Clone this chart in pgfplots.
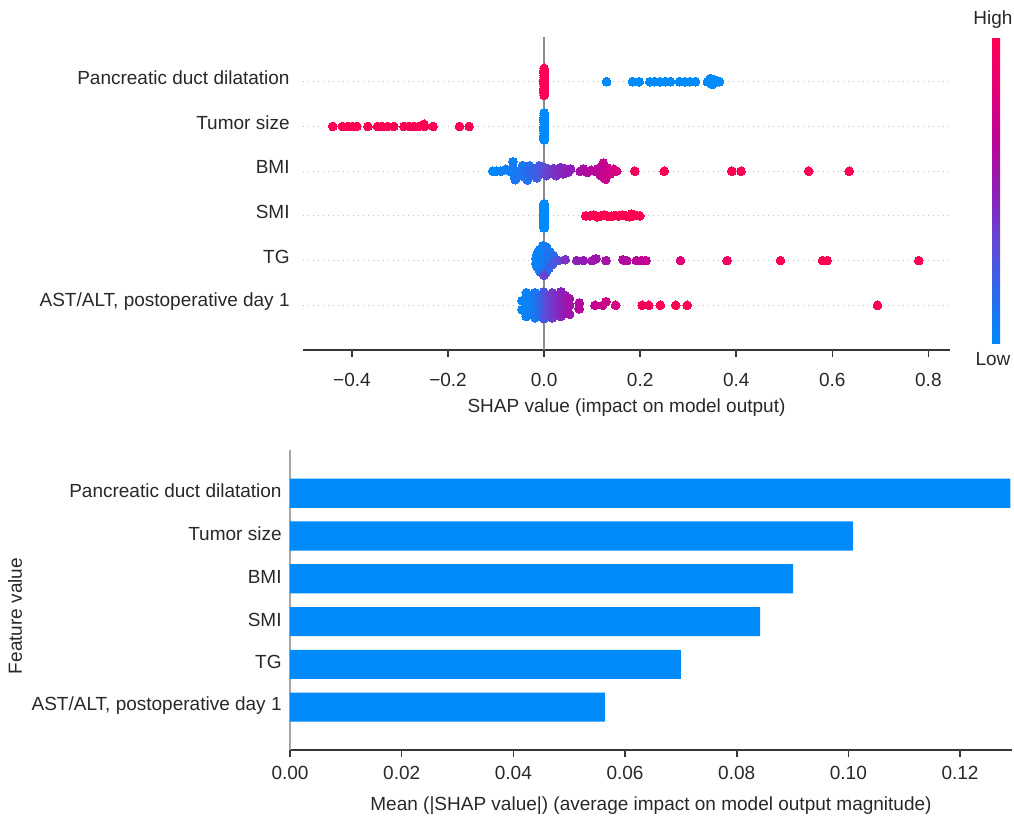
\documentclass[border=0pt]{standalone}
\usepackage{fontspec}
\setmainfont{Liberation Sans}
\usepackage{pgfplots}
\pgfplotsset{compat=1.18}
\definecolor{shapblue}{RGB}{0,138,250}
\definecolor{axisgray}{RGB}{55,55,55}
\definecolor{txt}{RGB}{40,40,40}

\begin{document}
\fontsize{9.5}{11}\selectfont
\begin{tikzpicture}
\path[use as bounding box] (0,0) rectangle (507pt,409pt);

% ---------------- top: beeswarm ----------------
\begin{axis}[
  at={(151.5pt,234pt)}, anchor=south west,
  scale only axis, width=323.5pt, height=156.5pt,
  xmin=-0.502, xmax=0.845, ymin=0, ymax=7,
  axis x line*=bottom, axis y line*=left,
  separate axis lines,
  x axis line style={axisgray, line width=0.9pt},
  y axis line style={draw=none},
  tick align=outside, major tick length=3.5pt,
  xtick={-0.4,-0.2,0,0.2,0.4,0.6,0.8},
  xticklabels={−0.4,−0.2,0.0,0.2,0.4,0.6,0.8},
  xtick style={axisgray, line width=0.8pt},
  ytick={1,2,3,4,5,6},
  yticklabels={{AST/ALT, postoperative day 1},TG,SMI,BMI,Tumor size,Pancreatic duct dilatation},
  ytick style={draw=none},
  ymajorgrids,
  grid style={black!25, line width=0.5pt, dash pattern=on 0.6pt off 1.9pt},
  every tick label/.append style={text=txt, font=\fontsize{9.5}{11}\selectfont},
  yticklabel style={inner sep=0pt, xshift=-3pt, yshift=2pt},
  xticklabel style={inner sep=0pt, yshift=-8pt},
  xlabel={SHAP value (impact on model output)},
  xlabel style={at={(axis description cs:0.5,0)}, anchor=center, yshift=-29pt, text=txt},
  colormap={shap}{rgb255=(0,138,250) rgb255=(45,105,235) rgb255=(100,70,212) rgb255=(142,30,182) rgb255=(188,5,150) rgb255=(226,0,118) rgb255=(255,0,82)},
  point meta min=0, point meta max=1,
  colorbar,
  colorbar style={at={(parent axis.north east)}, anchor=north west, xshift=12.5pt,
    scale only axis, width=4pt, height=153pt, ytick=\empty, xtick=\empty,
    axis line style={draw=none}},
]
\addplot[forget plot, draw=black!45, line width=1pt] coordinates {(0,0) (0,7)};

\addplot[scatter, only marks, mark=*, mark size=2.2pt, scatter src=explicit,
  mark options={line width=0pt},
  scatter/use mapped color={draw=mapped color, fill=mapped color}] table[x=x, y=y, meta=c] {
x y c
0 5.70 1
0 5.75 1
0 5.80 1
0 5.85 1
0 5.90 1
0 5.95 1
0 6.00 1
0 6.05 1
0 6.10 1
0 6.15 1
0 6.20 1
0 6.25 1
0 6.30 1
0.130 6 0
0.184 6 0
0.198 6 0
0.220 6 0
0.230 6 0
0.241 6 0
0.253 6 0
0.263 6 0
0.282 6 0
0.293 6 0
0.303 6 0
0.315 6 0
0.340 6 0
0.346 6.07 0
0.350 5.94 0
0.355 6.04 0
0.360 6 0
0.365 6 0
0 4.70 0
0 4.75 0
0 4.80 0
0 4.85 0
0 4.90 0
0 4.95 0
0 5.00 0
0 5.05 0
0 5.10 0
0 5.15 0
0 5.20 0
0 5.25 0
0 5.30 0
-0.440 5 1
-0.420 5 1
-0.409 5 1
-0.399 5 1
-0.390 5 1
-0.367 5 1
-0.347 5 1
-0.337 5 1
-0.326 5 1
-0.313 5 1
-0.292 5 1
-0.281 5 1
-0.271 5 1
-0.261 5 1
-0.249 5 1
-0.250 5.05 1
-0.231 5 1
-0.176 5 1
-0.156 5 1
-0.107 4 0.0
-0.099 4 0.02
-0.090 4 0.04
-0.080 4.04 0.06
-0.072 4 0.05
-0.065 4.21 0.05
-0.065 4.07 0.08
-0.062 3.90 0.05
-0.060 3.81 0.1
-0.052 4 0.1
-0.045 4.12 0.08
-0.042 3.88 0.1
-0.038 4.0 0.15
-0.035 3.80 0.12
-0.030 4.12 0.15
-0.025 3.92 0.18
-0.020 4.05 0.2
-0.015 3.85 0.22
-0.010 4.12 0.25
-0.005 3.95 0.28
0.000 4.08 0.3
0.005 3.90 0.33
0.010 4.04 0.35
0.015 3.96 0.38
0.020 4.06 0.40
0.025 3.90 0.42
0.030 4.02 0.44
0.035 4.08 0.45
0.040 3.94 0.46
0.045 4.04 0.48
0.050 3.98 0.5
0.055 4.05 0.5
0.075 4 0.6
0.082 4.05 0.6
0.090 3.97 0.62
0.098 4.02 0.64
0.105 4.0 0.65
0.112 4.05 0.66
0.118 3.90 0.68
0.123 4.18 0.70
0.125 3.98 0.7
0.128 3.82 0.72
0.132 4.07 0.72
0.138 3.94 0.75
0.145 4.04 0.76
0.151 4 0.78
0.189 4 0.93
0.250 4 0.97
0.391 4 1
0.410 4 1
0.551 4 1
0.635 4 1
0 2.73 0
0 2.775 0
0 2.82 0
0 2.865 0
0 2.91 0
0 2.955 0
0 3.00 0
0 3.045 0
0 3.09 0
0 3.135 0
0 3.18 0
0 3.225 0
0 3.27 0
0.087 3 1
0.095 3 1
0.103 3.02 1
0.110 2.98 1
0.118 3 1
0.125 3.02 1
0.132 3 1
0.140 2.99 1
0.148 3.01 1
0.155 3 1
0.163 3.02 1
0.170 3 1
0.178 2.98 1
0.182 3.04 1
0.185 3 1
0.192 3.01 1
0.199 3 1
-0.003 2.33 0.05
0.005 2.30 0.1
-0.010 2.24 0.05
0.003 2.22 0.08
0.012 2.20 0.1
-0.015 2.14 0.03
-0.004 2.12 0.05
0.008 2.13 0.12
0.020 2.10 0.15
-0.017 2.04 0.02
-0.006 2.03 0.05
0.006 2.02 0.1
0.018 2.00 0.2
0.030 2.00 0.3
-0.017 1.94 0.03
-0.006 1.95 0.06
0.006 1.93 0.12
0.018 1.92 0.25
-0.014 1.85 0.04
-0.002 1.84 0.08
0.010 1.83 0.2
-0.008 1.75 0.1
0.004 1.74 0.15
0.000 1.67 0.35
0.044 2.02 0.42
0.068 2 0.5
0.082 2 0.52
0.100 2 0.55
0.108 2.04 0.56
0.129 2 0.58
0.164 2.02 0.62
0.172 2 0.63
0.192 2 0.66
0.203 2 0.68
0.212 2 0.7
0.284 2 0.82
0.381 2 0.93
0.492 2 1
0.580 2 1
0.589 2 1
0.780 2 1
-0.046 0.90 0.02
-0.046 1.10 0.02
-0.037 0.75 0.03
-0.037 0.95 0.03
-0.037 1.15 0.03
-0.037 1.28 0.03
-0.028 0.82 0.05
-0.028 1.00 0.05
-0.028 1.20 0.05
-0.019 0.72 0.08
-0.019 0.90 0.08
-0.019 1.10 0.08
-0.019 1.28 0.08
-0.010 0.80 0.15
-0.010 1.00 0.15
-0.010 1.18 0.15
-0.001 0.70 0.25
-0.001 0.90 0.25
-0.001 1.10 0.25
-0.001 1.30 0.25
0.008 0.80 0.32
0.008 1.00 0.32
0.008 1.20 0.32
0.017 0.72 0.38
0.017 0.92 0.38
0.017 1.12 0.38
0.017 1.28 0.38
0.026 0.82 0.42
0.026 1.02 0.42
0.026 1.22 0.42
0.035 0.75 0.48
0.035 0.95 0.48
0.035 1.15 0.48
0.035 1.30 0.48
0.044 0.85 0.52
0.044 1.05 0.52
0.044 1.22 0.52
0.053 0.80 0.58
0.053 1.00 0.58
0.053 1.15 0.58
0.073 1.05 0.62
0.073 0.92 0.64
0.106 1 0.7
0.122 1 0.72
0.129 1.08 0.74
0.149 1 0.78
0.204 1 0.95
0.218 1 0.97
0.242 1 1
0.274 1 1
0.298 1 1
0.694 1 1
};
\end{axis}

\node[text=txt, anchor=center] at (496.5pt,399pt) {High};
\node[text=txt, anchor=center] at (496.5pt,229.5pt) {Low};

% ---------------- bottom: mean |SHAP| bars ----------------
\begin{axis}[
  at={(145pt,34pt)}, anchor=south west,
  scale only axis, width=361pt, height=149.8pt,
  xmin=0, xmax=0.1293, ymin=-1, ymax=6,
  xbar, bar width=0.68,
  axis x line*=bottom, axis y line*=left,
  separate axis lines,
  x axis line style={axisgray, line width=0.9pt},
  y axis line style={black!35, line width=0.7pt},
  tick align=outside, major tick length=3.5pt,
  xtick={0,0.02,0.04,0.06,0.08,0.1,0.12},
  xticklabels={0.00,0.02,0.04,0.06,0.08,0.10,0.12},
  xtick style={axisgray, line width=0.8pt},
  ytick={0,1,2,3,4,5},
  yticklabels={{AST/ALT, postoperative day 1},TG,SMI,BMI,Tumor size,Pancreatic duct dilatation},
  ytick style={draw=none},
  every tick label/.append style={text=txt, font=\fontsize{9.5}{11}\selectfont},
  yticklabel style={inner sep=0pt, xshift=-0.5pt, yshift=1pt},
  xticklabel style={inner sep=0pt, yshift=-4.5pt},
  xlabel={Mean (|SHAP value|) (average impact on model output magnitude)},
  xlabel style={at={(axis description cs:0.5,0)}, anchor=center, yshift=-28pt, text=txt},
]
\addplot[fill=shapblue, draw=none] coordinates {(0.1290,5) (0.1008,4) (0.0901,3) (0.0842,2) (0.0700,1) (0.0564,0)};
\end{axis}

\node[rotate=90, text=txt, anchor=center] at (7.5pt,101pt) {Feature value};
\end{tikzpicture}
\end{document}
